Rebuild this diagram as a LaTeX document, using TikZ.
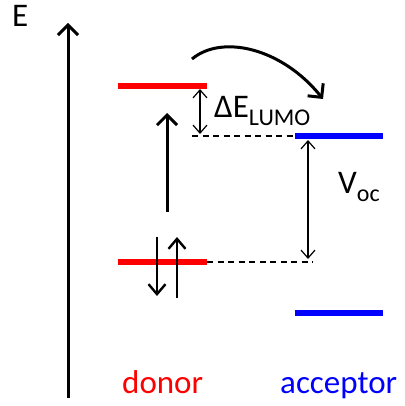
\documentclass[tikz,border=0pt]{standalone}
\usepackage{fontspec}
\setmainfont{Carlito}
\usetikzlibrary{arrows.meta}
\definecolor{lvred}{RGB}{255,0,0}
\definecolor{lvblue}{RGB}{0,0,255}
\begin{document}
\begin{tikzpicture}[x=1pt,y=-1pt,
  level/.style={line width=5.5pt},
  donorlvl/.style={level,draw=lvred},
  accptlvl/.style={level,draw=lvblue},
  thickarrow/.style={line width=3pt,-{Straight Barb[length=10pt,width=20pt,line width=3pt]}},
  spinarrow/.style={line width=2.4pt,-{Straight Barb[length=10pt,width=17pt,line width=2.4pt]}},
  thinarrow/.style={line width=1.2pt,{Straight Barb[length=8pt,width=14pt,line width=1.2pt]}-{Straight Barb[length=8pt,width=14pt,line width=1.2pt]}},
  guide/.style={line width=1.3pt,dash pattern=on 6pt off 4.5pt},
  lbl/.style={inner sep=0pt,anchor=base west,font=\fontsize{33}{38}\selectfont}
]
\useasboundingbox (0,0) rectangle (404,406);
% axis
\coordinate (axb) at (68,398);
\coordinate (axt) at (68,23);
\draw[thickarrow] (axb) -- (axt);
\node[lbl] (E) at (12,27) {E};
% levels
\coordinate (dLl) at (118,86);  \coordinate (dLr) at (207,86);
\coordinate (dHl) at (118,262); \coordinate (dHr) at (207,262);
\coordinate (aLl) at (295,136); \coordinate (aLr) at (383,136);
\coordinate (aHl) at (295,313); \coordinate (aHr) at (383,313);
\draw[donorlvl] (dLl) -- (dLr);
\draw[donorlvl] (dHl) -- (dHr);
\draw[accptlvl] (aLl) -- (aLr);
\draw[accptlvl] (aHl) -- (aHr);
% dashed guides
\coordinate (g1) at (192,136);
\draw[guide] (g1) -- (aLl);
\coordinate (g2) at (313,262);
\draw[guide] (dHr) -- (g2);
% Delta E LUMO arrow
\coordinate (dEt) at (200,89);
\coordinate (dEb) at (200,134);
\draw[thinarrow] (dEt) -- (dEb);
\node[lbl] (dE) at (214,118) {ΔE\raisebox{-8pt}{\fontsize{24}{26}\selectfont LUMO}};
% Voc arrow
\coordinate (vt) at (308,140);
\coordinate (vb) at (308,259);
\draw[thinarrow] (vt) -- (vb);
\node[lbl] (voc) at (338,193) {V\raisebox{-8pt}{\fontsize{24}{26}\selectfont oc}};
% excitation arrow
\coordinate (exb) at (167,212);
\coordinate (ext) at (167,113);
\draw[thickarrow] (exb) -- (ext);
% spins
\coordinate (s1t) at (157,237);
\coordinate (s1b) at (157,296);
\draw[spinarrow] (s1t) -- (s1b);
\coordinate (s2b) at (177,298);
\coordinate (s2t) at (177,237);
\draw[spinarrow] (s2b) -- (s2t);
% transfer arrow
\coordinate (c0) at (192,59);
\coordinate (c1) at (323,99);
\draw[thickarrow] (c0) .. controls (222,34) and (282,48) .. (c1);
% labels
\node[lbl,text=lvred] (donor) at (122,393) {donor};
\node[lbl,text=lvblue] (acceptor) at (280,393) {acceptor};
\end{tikzpicture}
\end{document}
